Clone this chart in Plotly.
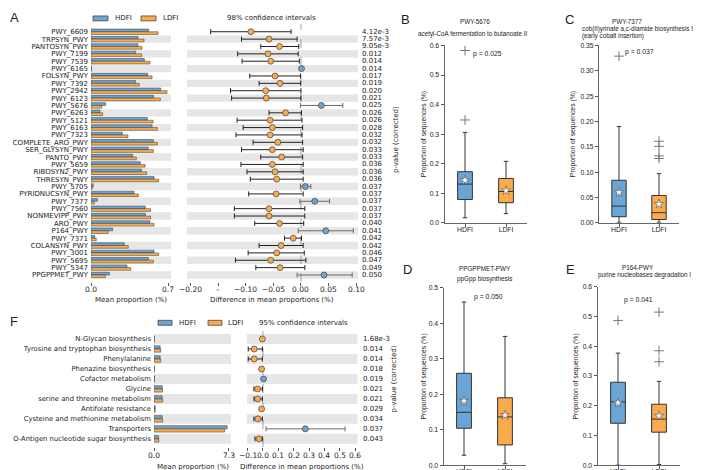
import plotly.graph_objects as go

W, H = 706, 470
def fx(px): return px / W
def fy(py): return 1 - py / H

BLUE = '#6aa5d6'
ORANGE = '#f9ab4e'
TXT = '#222222'
FONT = 'DejaVu Sans'
FONT2 = 'Liberation Sans'

# ---------------- Panel A data ----------------
A_names = ["PWY_6609", "TRPSYN_PWY", "PANTOSYN_PWY", "PWY_7199", "PWY_7539", "PWY_6165",
           "FOLSYN_PWY", "PWY_7392", "PWY_2942", "PWY_6123", "PWY_5676", "PWY_6263",
           "PWY_5121", "PWY_6163", "PWY_7323", "COMPLETE_ARO_PWY", "SER_GLYSYN_PWY",
           "PANTO_PWY", "PWY_5659", "RIBOSYN2_PWY", "THRESYN_PWY", "PWY_5705",
           "PYRIDNUCSYN_PWY", "PWY_7377", "PWY_7560", "NONMEVIPP_PWY", "ARO_PWY",
           "P164_PWY", "PWY_7371", "COLANSYN_PWY", "PWY_3001", "PWY_5695", "PWY_5347",
           "PPGPPMET_PWY"]
A_hdfi = [0.524, 0.427, 0.427, 0.406, 0.485, 0.004, 0.515, 0.406, 0.633, 0.570, 0.133, 0.082,
          0.512, 0.555, 0.285, 0.567, 0.521, 0.379, 0.448, 0.458, 0.573, 0.021, 0.391, 0.058,
          0.494, 0.494, 0.536, 0.197, 0.033, 0.303, 0.573, 0.521, 0.327, 0.167]
A_ldfi = [0.609, 0.482, 0.464, 0.461, 0.536, 0.004, 0.555, 0.439, 0.691, 0.630, 0.097, 0.106,
          0.564, 0.603, 0.336, 0.603, 0.567, 0.412, 0.491, 0.506, 0.615, 0.012, 0.430, 0.030,
          0.542, 0.542, 0.573, 0.155, 0.048, 0.339, 0.615, 0.567, 0.361, 0.130]
A_diff = [-0.091, -0.058, -0.039, -0.060, -0.055, 0.001, -0.047, -0.038, -0.064, -0.063, 0.037,
          -0.028, -0.056, -0.052, -0.056, -0.042, -0.052, -0.035, -0.052, -0.047, -0.044, 0.008,
          -0.045, 0.025, -0.058, -0.058, -0.039, 0.045, -0.014, -0.036, -0.044, -0.055, -0.038,
          0.042]
A_lo = [-0.164, -0.108, -0.073, -0.115, -0.107, 0.000, -0.093, -0.076, -0.128, -0.126, -0.001,
        -0.058, -0.116, -0.105, -0.118, -0.087, -0.108, -0.073, -0.109, -0.098, -0.092, -0.001,
        -0.095, -0.002, -0.121, -0.121, -0.084, -0.005, -0.030, -0.076, -0.096, -0.119, -0.082,
        -0.007]
A_hi = [-0.018, -0.007, -0.004, -0.005, -0.003, 0.002, -0.001, -0.0005, 0.000, 0.000, 0.076,
        0.001, 0.002, 0.003, 0.002, 0.003, 0.004, 0.003, 0.004, 0.004, 0.004, 0.018, 0.004,
        0.052, 0.007, 0.007, 0.005, 0.095, 0.001, 0.004, 0.006, 0.009, 0.007, 0.093]
A_p = ["4.12e-3", "7.57e-3", "9.05e-3", "0.012", "0.014", "0.014", "0.017", "0.019", "0.020",
       "0.021", "0.025", "0.026", "0.026", "0.028", "0.032", "0.032", "0.033", "0.033", "0.036",
       "0.036", "0.036", "0.037", "0.037", "0.037", "0.037", "0.037", "0.040", "0.041", "0.042",
       "0.042", "0.046", "0.047", "0.049", "0.050"]
A_bar_ticks = [0, 0.7]
A_bar_ticktext = ["0.0", "0.7"]
A_ci_ticks = [-0.20, -0.15, -0.10, -0.05, 0.00, 0.05, 0.10]
A_ci_ticktext = ["\u22120.20", "\u2013", "\u22120.10", "\u22120.05", "0.00", "0.05", "0.10"]

# ---------------- Panel F data ----------------
F_names = ["N-Glycan biosynthesis", "Tyrosine and tryptophan biosynthesis", "Phenylalanine",
           "Phenazine biosynthesis", "Cofactor metabolism", "Glycine",
           "serine and threonine metabolism", "Antifolate resistance",
           "Cysteine and methionine metabolism", "Transporters",
           "O-Antigen nucleotide sugar biosynthesis"]
F_hdfi = [0.03, 0.60, 0.60, 0.04, 0.05, 0.80, 0.80, 0.12, 0.80, 7.13, 0.45]
F_ldfi = [0.03, 0.66, 0.66, 0.04, 0.04, 0.84, 0.84, 0.12, 0.84, 6.87, 0.48]
F_diff = [-0.004, -0.057, -0.057, -0.009, 0.004, -0.035, -0.035, -0.009, -0.033, 0.276, -0.026]
F_lo = [-0.006, -0.096, -0.096, -0.012, 0.002, -0.059, -0.059, -0.012, -0.059, 0.020, -0.052]
F_hi = [-0.002, -0.004, -0.004, -0.006, 0.006, -0.004, -0.004, -0.006, -0.004, 0.535, -0.004]
F_p = ["1.68e-3", "0.014", "0.014", "0.018", "0.019", "0.021", "0.021", "0.029", "0.034",
       "0.037", "0.043"]
F_bar_ticks = [0, 7.3]
F_bar_ticktext = ["0.0", "7.3"]
F_ci_ticks = [-0.1, 0, 0.1, 0.2, 0.3, 0.4, 0.5, 0.6]
F_ci_ticktext = ["\u22120.1", "0.0", "0.1", "0.2", "0.3", "0.4", "0.5", "0.6"]

# ---------------- Box plot data (B-E) ----------------
groups = ["HDFI", "LDFI"]
B_q1 = [0.079, 0.068]; B_med = [0.131, 0.106]; B_q3 = [0.173, 0.150]
B_lo = [0.017, 0.031]; B_hi = [0.306, 0.208]; B_mean = [0.144, 0.109]
B_out = [[0.348, 0.583], []]
C_q1 = [0.012, 0.0065]; C_med = [0.033, 0.020]; C_q3 = [0.084, 0.054]
C_lo = [0.001, 0.001]; C_hi = [0.190, 0.097]; C_mean = [0.060, 0.037]
C_out = [[0.329], [0.127, 0.132, 0.151, 0.161]]
D_q1 = [0.104, 0.057]; D_med = [0.149, 0.136]; D_q3 = [0.259, 0.190]
D_lo = [0.028, 0.004]; D_hi = [0.460, 0.363]; D_mean = [0.181, 0.141]
D_out = [[], []]
E_q1 = [0.141, 0.111]; E_med = [0.213, 0.155]; E_q3 = [0.279, 0.205]
E_lo = [0.000, 0.002]; E_hi = [0.377, 0.282]; E_mean = [0.210, 0.166]
E_out = [[0.487], [0.348, 0.385, 0.515]]

fig = go.Figure()

# ---------- A: bars ----------
bar_line = dict(color='#333333', width=0.5)
fig.add_trace(go.Bar(y=A_names, x=A_hdfi, orientation='h', width=0.37, offset=-0.37,
                     marker=dict(color=BLUE, line=bar_line), xaxis='x', yaxis='y'))
fig.add_trace(go.Bar(y=A_names, x=A_ldfi, orientation='h', width=0.37, offset=0.0,
                     marker=dict(color=ORANGE, line=bar_line), xaxis='x', yaxis='y'))

def ci_traces(names, diff, lo, hi, xa, ya, size, ew):
    out = []
    for pos, color, ecol in [(False, ORANGE, '#222222'), (True, BLUE, '#6a6a6a')]:
        idx = [i for i in range(len(names)) if (diff[i] > 0) == pos]
        out.append(go.Scatter(
            x=[diff[i] for i in idx], y=[names[i] for i in idx], mode='markers',
            marker=dict(color=color, size=size, line=dict(color='#444444', width=0.7)),
            error_x=dict(type='data', symmetric=False,
                         array=[hi[i] - diff[i] for i in idx],
                         arrayminus=[diff[i] - lo[i] for i in idx],
                         color=ecol, thickness=1, width=ew),
            xaxis=xa, yaxis=ya))
    return out

for t in ci_traces(A_names, A_diff, A_lo, A_hi, 'x2', 'y2', 6, 2.5):
    fig.add_trace(t)

# ---------- F ----------
fig.add_trace(go.Bar(y=F_names, x=F_hdfi, orientation='h', width=0.32, offset=-0.32,
                     marker=dict(color=BLUE, line=bar_line), xaxis='x3', yaxis='y3'))
fig.add_trace(go.Bar(y=F_names, x=F_ldfi, orientation='h', width=0.32, offset=0.0,
                     marker=dict(color=ORANGE, line=bar_line), xaxis='x3', yaxis='y3'))
for t in ci_traces(F_names, F_diff, F_lo, F_hi, 'x4', 'y4', 6, 2.5):
    fig.add_trace(t)

# ---------- Box plots ----------
def add_box(q1, med, q3, lo, hi, mean, outl, xa, ya):
    cols = [BLUE, ORANGE]
    for k in range(2):
        fig.add_trace(go.Box(x=[k + 1], q1=[q1[k]], median=[med[k]], q3=[q3[k]],
                             lowerfence=[lo[k]], upperfence=[hi[k]], orientation='v',
                             fillcolor=cols[k], line=dict(color='#333333', width=1),
                             width=0.36, whiskerwidth=0.3, boxpoints=False,
                             xaxis=xa, yaxis=ya))
        if outl[k]:
            fig.add_trace(go.Scatter(x=[k + 1] * len(outl[k]), y=outl[k], mode='markers',
                                     marker=dict(symbol='cross-thin', size=7,
                                                 line=dict(color='#777777', width=1)),
                                     xaxis=xa, yaxis=ya))
    fig.add_trace(go.Scatter(x=[1, 2], y=mean, mode='markers',
                             marker=dict(symbol='star', size=7, color='#f4f4f4',
                                         line=dict(color='#555555', width=0.6)),
                             xaxis=xa, yaxis=ya))

add_box(B_q1, B_med, B_q3, B_lo, B_hi, B_mean, B_out, 'x5', 'y5')
add_box(C_q1, C_med, C_q3, C_lo, C_hi, C_mean, C_out, 'x6', 'y6')
add_box(D_q1, D_med, D_q3, D_lo, D_hi, D_mean, D_out, 'x7', 'y7')
add_box(E_q1, E_med, E_q3, E_lo, E_hi, E_mean, E_out, 'x8', 'y8')

lblfont = dict(family=FONT, size=7, color=TXT)
boxtick = dict(family=FONT2, size=6.8, color=TXT)

layout = dict(
    width=W, height=H, margin=dict(l=0, r=0, t=0, b=0),
    paper_bgcolor='white', plot_bgcolor='white', showlegend=False,
    barmode='overlay', boxmode='overlay', font=dict(family=FONT, color=TXT),
)

def xax(dom, rng, tv, anchor):
    return dict(domain=dom, range=rng, tickvals=tv, ticks='outside', ticklen=3,
                tickcolor='#555', showticklabels=False, showgrid=False, zeroline=False,
                showline=False, anchor=anchor)

# A axes
layout['xaxis'] = xax([fx(83), fx(163)], [0, 0.727], A_bar_ticks, 'y')
layout['yaxis'] = dict(domain=[fy(274), fy(16.3)], type='category', categoryarray=A_names,
                       tickmode='array', tickvals=A_names,
                       range=[33.94, -0.5], showgrid=False, zeroline=False, ticks='',
                       tickfont=lblfont, anchor='x', ticklabelstandoff=2)
layout['xaxis2'] = xax([fx(179), fx(350)], [-0.207, 0.1036], A_ci_ticks, 'y2')
layout['yaxis2'] = dict(domain=[fy(274), fy(16.3)], type='category', categoryarray=A_names,
                        range=[33.94, -0.5], showgrid=False, zeroline=False,
                        showticklabels=False, ticks='', anchor='x2')
# F axes
layout['xaxis3'] = xax([fx(146), fx(223)], [0, 7.5], F_bar_ticks, 'y3')
layout['yaxis3'] = dict(domain=[fy(441.5), fy(326.9)], type='category', categoryarray=F_names,
                        tickmode='array', tickvals=F_names,
                        range=[10.81, -0.5], showgrid=False, zeroline=False, ticks='',
                        tickfont=dict(family=FONT, size=6.8, color=TXT), anchor='x3',
                        ticklabelstandoff=2)
layout['xaxis4'] = xax([fx(239), fx(349.5)], [-0.104, 0.616], F_ci_ticks, 'y4')
layout['yaxis4'] = dict(domain=[fy(441.5), fy(326.9)], type='category', categoryarray=F_names,
                        range=[10.81, -0.5], showgrid=False, zeroline=False,
                        showticklabels=False, ticks='', anchor='x4')

# Box axes
def box_axes(n, xd, yd, yr, dt, fmt):
    layout['xaxis%d' % n] = dict(domain=[fx(xd[0]), fx(xd[1])], range=[0.5, 2.5],
                                 tickvals=[1, 2], ticktext=groups, ticks='outside', ticklen=3,
                                 tickcolor='#555', showline=True, linecolor='#666',
                                 linewidth=1, showgrid=False, zeroline=False,
                                 tickfont=boxtick, anchor='y%d' % n, ticklabelstandoff=-3)
    layout['yaxis%d' % n] = dict(domain=[fy(yd[1]), fy(yd[0])], range=yr, dtick=dt,
                                 tick0=0, tickformat=fmt, ticks='outside', ticklen=3,
                                 tickcolor='#555', showline=True, linecolor='#666',
                                 linewidth=1, showgrid=False, zeroline=False,
                                 tickfont=boxtick, anchor='x%d' % n)

box_axes(5, (436.5, 518.5), (34, 214), [0, 0.6], 0.1, '.1f')
box_axes(6, (591, 671), (34, 214), [0, 0.35], 0.05, '.2f')
box_axes(7, (435.5, 517.5), (280, 460), [0, 0.5], 0.1, '.1f')
box_axes(8, (589.5, 671.5), (279, 460), [0, 0.6], 0.1, '.1f')

shapes = []
# grey bands
for i in range(len(A_names)):
    if i % 2 == 1:
        for xr, yr in [('x domain', 'y'), ('x2 domain', 'y2')]:
            shapes.append(dict(type='rect', xref=xr, yref=yr, x0=0, x1=1, y0=i - 0.5,
                               y1=i + 0.5, fillcolor='#e6e6e6', line=dict(width=0),
                               layer='below'))
for i in range(len(F_names)):
    if i % 2 == 0:
        for xr, yr in [('x3 domain', 'y3'), ('x4 domain', 'y4')]:
            shapes.append(dict(type='rect', xref=xr, yref=yr, x0=0, x1=1, y0=i - 0.5,
                               y1=i + 0.5, fillcolor='#e6e6e6', line=dict(width=0),
                               layer='below'))
# zero dashed lines
shapes.append(dict(type='line', xref='x2', yref='paper', x0=0, x1=0, y0=fy(274), y1=fy(12),
                   line=dict(color='#888888', width=0.8, dash='dash'), layer='below'))
shapes.append(dict(type='line', xref='x4', yref='paper', x0=0, x1=0, y0=fy(441.5), y1=fy(324),
                   line=dict(color='#888888', width=0.8, dash='dash'), layer='below'))
# legend swatches
for (x0, x1, y0, y1, c) in [(85, 100, 4, 9, BLUE), (133, 148, 4, 9, ORANGE),
                            (150, 164, 313, 318, BLUE), (200, 214, 313, 318, ORANGE)]:
    shapes.append(dict(type='rect', xref='paper', yref='paper', x0=fx(x0), x1=fx(x1),
                       y0=fy(y1), y1=fy(y0), fillcolor=c, line=dict(color='#333', width=0.7)))
layout['shapes'] = shapes

ann = []
def txt(x, y, s, size=7, xa='center', ya='middle', angle=0, xref='paper', yref='paper',
        family=FONT):
    ann.append(dict(x=x, y=y, xref=xref, yref=yref, text=s, showarrow=False, xanchor=xa,
                    yanchor=ya, textangle=angle,
                    font=dict(family=family, size=size, color=TXT)))

# x tick labels of A and F panels (placed just under the tick marks)
for vals, texts, xr, ypx in [(A_bar_ticks, A_bar_ticktext, 'x', 282),
                             (A_ci_ticks, A_ci_ticktext, 'x2', 282),
                             (F_bar_ticks, F_bar_ticktext, 'x3', 450),
                             (F_ci_ticks, F_ci_ticktext, 'x4', 450)]:
    for v, t in zip(vals, texts):
        txt(v, fy(ypx), t, size=7.5, xref=xr)

# p-values
for i, p in enumerate(A_p):
    txt(fx(352), A_names[i], p, size=7, xa='left', yref='y2')
for i, p in enumerate(F_p):
    txt(fx(353), F_names[i], p, size=7, xa='left', yref='y4')
txt(fx(388), fy(130), 'p-value (corrected)', size=7, angle=-90)
txt(fx(386), fy(373), 'p-value (corrected)', size=7, angle=-90)

# legends & titles
txt(fx(105), fy(6.5), 'HDFI', xa='left')
txt(fx(153), fy(6.5), 'LDFI', xa='left')
txt(fx(263), fy(6), '98% confidence intervals')
txt(fx(169), fy(315.5), 'HDFI', xa='left')
txt(fx(218), fy(315.5), 'LDFI', xa='left')
txt(fx(295), fy(315.5), '95% confidence intervals')
txt(fx(123), fy(292.5), 'Mean proportion (%)')
txt(fx(264), fy(292.5), 'Difference in mean proportions (%)')
txt(fx(185), fy(462), 'Mean proportion (%)')
txt(fx(294), fy(462), 'Difference in mean proportions (%)')

# panel letters
for L, x, y in [('A', 0, 6), ('B', 391, 8), ('C', 555, 8), ('D', 393, 261), ('E', 556, 261),
                ('F', 0, 314)]:
    txt(fx(x), fy(y), L, size=13, xa='left', family=FONT2)

# box titles
bt = 6.3
txt(fx(467), fy(10), 'PWY-5676', size=bt, family=FONT2)
txt(fx(464), fy(22), 'acetyl-CoA fermentation to butanoate II', size=bt, family=FONT2)
txt(fx(619), fy(10), 'PWY-7377', size=bt, family=FONT2)
txt(fx(572), fy(17), 'cob(II)yrinate a,c-diamide biosynthesis I', size=bt, xa='left',
    family=FONT2)
txt(fx(572), fy(24.5), '(early cobalt insertion)', size=bt, xa='left', family=FONT2)
txt(fx(477), fy(260), 'PPGPPMET-PWY', size=bt, family=FONT2)
txt(fx(476), fy(271), 'ppGpp biosynthesis', size=bt, family=FONT2)
txt(fx(630), fy(259), 'P164-PWY', size=bt, family=FONT2)
txt(fx(636), fy(267), 'purine nucleobases degradation I', size=bt, family=FONT2)
for x, y in [(416, 124), (565, 124), (416, 370), (568, 370)]:
    txt(fx(x), fy(y), 'Proportion of sequences (%)', size=6.8, angle=-90, family=FONT2)

# p annotations in box plots
txt(1.15, 0.572, 'p = 0.025', size=6.8, xa='left', xref='x5', yref='y5', family=FONT2)
txt(1.1, 0.337, 'p = 0.037', size=6.8, xa='left', xref='x6', yref='y6', family=FONT2)
txt(1.6, 0.474, 'p = 0.050', size=6.8, xref='x7', yref='y7', family=FONT2)
txt(1.49, 0.557, 'p = 0.041', size=6.8, xref='x8', yref='y8', family=FONT2)

layout['annotations'] = ann
fig.update_layout(**layout)
fig.write_html("out.html")
